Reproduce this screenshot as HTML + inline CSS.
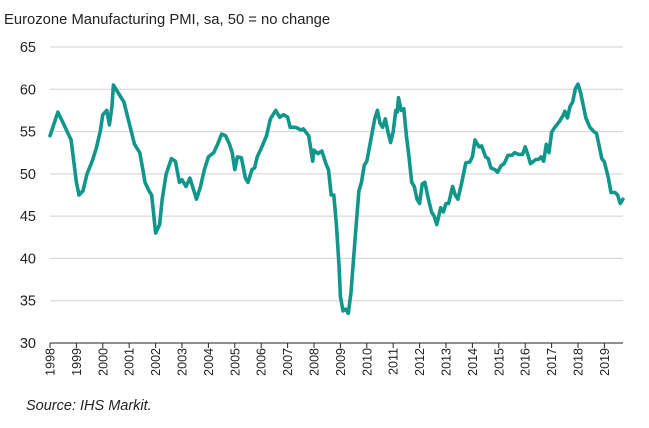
<!DOCTYPE html>
<html><head><meta charset="utf-8"><style>
body{margin:0;background:#fff;width:649px;height:423px;overflow:hidden;font-family:"Liberation Sans",Arial,sans-serif}
</style></head><body>
<svg id="chart" width="649" height="423" viewBox="0 0 649 423" xmlns="http://www.w3.org/2000/svg">
<text x="4" y="24" font-size="14.8" fill="#222">Eurozone Manufacturing PMI, sa, 50 = no change</text>
<g id="grid"></g><g id="yticks"></g><g id="xticks"></g><g id="series"></g>
<text x="26" y="410" font-size="14.5" font-style="italic" fill="#222">Source: IHS Markit.</text>
</svg>
<script>
const yTickLabels=[30,35,40,45,50,55,60,65];
const xTickLabels=[1998,1999,2000,2001,2002,2003,2004,2005,2006,2007,2008,2009,2010,2011,2012,2013,2014,2015,2016,2017,2018,2019];
const dates=[1998.0,1998.3,1998.5,1998.8,1999.0,1999.1,1999.25,1999.4,1999.6,1999.75,1999.9,2000.0,2000.15,2000.25,2000.35,2000.4,2000.6,2000.8,2001.0,2001.2,2001.4,2001.5,2001.6,2001.75,2001.85,2001.9,2002.0,2002.15,2002.25,2002.4,2002.6,2002.75,2002.9,2003.0,2003.15,2003.3,2003.45,2003.55,2003.7,2003.85,2004.0,2004.2,2004.35,2004.5,2004.65,2004.8,2004.9,2005.0,2005.1,2005.25,2005.4,2005.5,2005.65,2005.75,2005.85,2006.0,2006.2,2006.35,2006.55,2006.7,2006.85,2007.0,2007.1,2007.3,2007.5,2007.6,2007.8,2007.95,2008.0,2008.15,2008.3,2008.45,2008.55,2008.65,2008.75,2008.85,2008.95,2009.0,2009.1,2009.2,2009.3,2009.4,2009.5,2009.6,2009.7,2009.8,2009.9,2010.0,2010.15,2010.3,2010.4,2010.5,2010.6,2010.7,2010.8,2010.9,2011.0,2011.1,2011.15,2011.2,2011.3,2011.4,2011.5,2011.6,2011.7,2011.8,2011.9,2012.0,2012.1,2012.2,2012.3,2012.45,2012.55,2012.65,2012.8,2012.9,2013.0,2013.1,2013.25,2013.35,2013.45,2013.6,2013.75,2013.9,2014.0,2014.1,2014.25,2014.35,2014.5,2014.6,2014.7,2014.85,2014.95,2015.1,2015.2,2015.35,2015.5,2015.6,2015.75,2015.9,2016.0,2016.1,2016.2,2016.4,2016.5,2016.6,2016.7,2016.8,2016.9,2017.0,2017.1,2017.3,2017.45,2017.5,2017.6,2017.7,2017.8,2017.9,2018.0,2018.1,2018.3,2018.45,2018.6,2018.7,2018.9,2019.0,2019.15,2019.25,2019.4,2019.5,2019.6,2019.7];
const pmi=[54.5,57.3,56,54,49,47.5,48,50,51.5,53,55,57,57.5,55.8,58,60.5,59.5,58.5,56,53.5,52.5,50.8,49,48,47.5,46,43,44,47,50,51.8,51.5,49,49.3,48.5,49.5,48,47,48.5,50.5,52,52.5,53.5,54.7,54.5,53.5,52.5,50.5,52,51.9,49.5,49,50.5,50.7,52,53,54.5,56.5,57.5,56.7,57,56.7,55.5,55.5,55.2,55.3,54.5,51.5,52.8,52.4,52.7,51.2,50.5,47.5,47.5,44,39,35.5,33.8,34,33.5,36,40,44,48,49,51,51.5,54,56.5,57.5,56,55.5,56.5,55,53.7,55,57.5,57.3,59,57.5,57.7,54.5,52,49,48.5,47,46.5,48.8,49,47.5,45.5,45,44,46,45.5,46.5,46.5,48.5,47.5,47,49,51.3,51.4,52,54,53.2,53.3,52,51.8,50.7,50.5,50.2,51,51.2,52.2,52.2,52.5,52.3,52.3,53.2,52.3,51.2,51.7,51.7,52,51.5,53.5,52.5,54.9,55.4,56.2,57,57.4,56.6,58,58.5,60.1,60.6,59.6,56.6,55.5,55,54.8,51.8,51.4,49.5,47.8,47.8,47.5,46.5,47];
const NS="http://www.w3.org/2000/svg";
const X0=50,X1=623,Y0=343,Y1=47;
function xs(t){return X0+(t-1998)*26.4;}
function ys(v){return Y0-(v-30)*(Y0-Y1)/35;}
function mk(tag,attrs,parent){const e=document.createElementNS(NS,tag);for(const k in attrs)e.setAttribute(k,attrs[k]);parent.appendChild(e);return e;}
const grid=document.getElementById('grid'),yt=document.getElementById('yticks'),xt=document.getElementById('xticks'),ser=document.getElementById('series');
yTickLabels.forEach(v=>{
  if(v>30){const l=mk('line',{x1:X0,x2:X1,y1:ys(v),y2:ys(v),stroke:'#d0d0d0','stroke-width':1},grid);
  
  }
  const t=mk('text',{x:36,y:ys(v)+5,'text-anchor':'end','font-size':14.5,fill:'#222'},yt);
  t.textContent=v;
  
  
});
const ax=mk('line',{x1:X0,x2:X1,y1:Y0,y2:Y0,stroke:'#222','stroke-width':1},xt);


xTickLabels.forEach(yr=>{
  const x=xs(yr);
  const tk=mk('line',{x1:x,x2:x,y1:Y0,y2:Y0+5,stroke:'#222','stroke-width':1},xt);
  
  
  const t=mk('text',{x:0,y:0,'font-size':12.5,fill:'#222','text-anchor':'end',transform:`translate(${x+4.5},${Y0+5}) rotate(-90)`},xt);
  t.textContent=yr;
  
  
});
let d='';dates.forEach((t,i)=>{d+=(i?'L':'M')+xs(t).toFixed(1)+','+ys(pmi[i]).toFixed(1);});
const p=mk('path',{d:d,fill:'none',stroke:'#10968a','stroke-width':3.6,'stroke-linejoin':'round','stroke-linecap':'round'},ser);


</script>
</body></html>
